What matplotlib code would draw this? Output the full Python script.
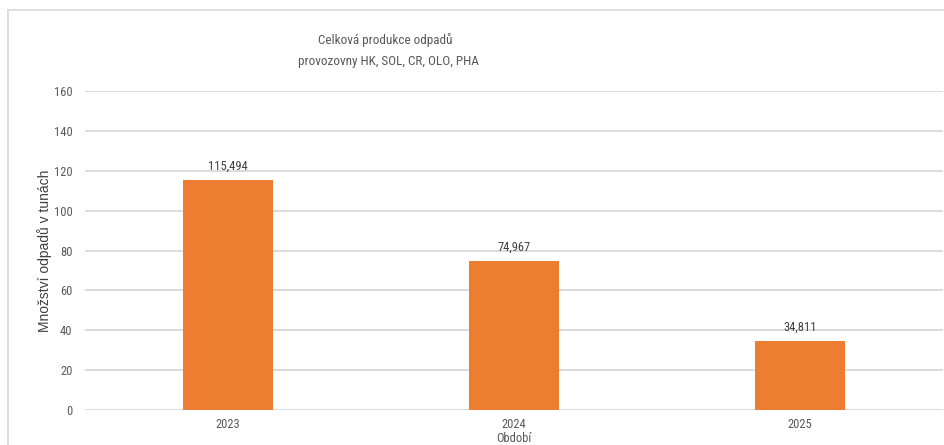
import matplotlib
matplotlib.use("Agg")
import matplotlib.pyplot as plt
from matplotlib.lines import Line2D

categories = ["2023", "2024", "2025"]
values = [115.494, 74.967, 34.811]
value_labels = ["115,494", "74,967", "34,811"]
yticks = [0, 20, 40, 60, 80, 100, 120, 140, 160]

W, H = 944, 445
fig = plt.figure(figsize=(W / 100, H / 100), dpi=100)
narrow = ["Liberation Sans Narrow", "Roboto Condensed", "Open Sans Condensed", "Roboto", "DejaVu Sans"]
gray = "#595959"

ax = fig.add_axes([85 / W, 1 - 410 / H, (943 - 85) / W, (410 - 91) / H])
x = list(range(len(categories)))
bars = ax.bar(x, values, width=0.315, color="#ED7D31", zorder=3)
ax.set_xlim(-0.5, len(categories) - 0.5)
ax.set_ylim(0, 160)
ax.set_yticks(yticks)
ax.set_yticklabels([str(t) for t in yticks], family=narrow, fontsize=9, color=gray)
ax.set_xticks(x)
ax.set_xticklabels(categories, family=narrow, fontsize=9, color=gray)
ax.tick_params(axis="both", length=0)
ax.tick_params(axis="y", pad=9)
ax.tick_params(axis="x", pad=6)
ax.grid(axis="y", color="#D9D9D9", linewidth=1.3, zorder=0)
for s in ax.spines.values():
    s.set_visible(False)

for b, lab in zip(bars, value_labels):
    ax.annotate(lab, (b.get_x() + b.get_width() / 2, b.get_height()),
                xytext=(0, 5), textcoords="offset points", ha="center", va="bottom",
                family=narrow, fontsize=9, color="#404040")

ax.set_xlabel("Období", family=narrow, fontsize=9, color=gray)
ax.xaxis.set_label_coords(0.5, (410 - 445) / (410 - 91))
ax.xaxis.label.set_va("bottom")
ax.set_ylabel("Množství odpadů v tunách", family=["Liberation Sans", "DejaVu Sans"],
              fontsize=10, color="#404040")
ax.yaxis.set_label_coords((45 - 85) / (943 - 85), 0.5)
ax.yaxis.label.set_va("center")

fig.text(385 / W, 1 - 40 / H, "Celková produkce odpadů", family=narrow, fontsize=9.5,
         color=gray, ha="center", va="center")
fig.text(388 / W, 1 - 61 / H, "provozovny HK, SOL, CR, OLO, PHA", family=narrow,
         fontsize=9.5, color=gray, ha="center", va="center")

# chart frame (partially visible)
fig.add_artist(Line2D([8 / W, 8 / W], [0, 1 - 10 / H], color="#D9D9D9", linewidth=1.2,
                      transform=fig.transFigure))
fig.add_artist(Line2D([8 / W, 1], [1 - 10 / H, 1 - 10 / H], color="#D9D9D9", linewidth=1.2,
                      transform=fig.transFigure))

fig.savefig("out.png", dpi=100)
